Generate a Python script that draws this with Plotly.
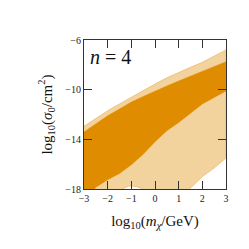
import plotly.graph_objects as go

# Band boundaries (log10 m_chi grid)
x_grid = [-3, -2.5, -2, -1.5, -1, -0.5, 0, 0.5, 1, 1.5, 2, 2.5, 3]
light_upper = [-12.95, -12.3, -11.7, -11.15, -10.6, -10.05, -9.55, -9.05, -8.6, -8.2, -7.8, -7.3, -6.8]
dark_upper = [-13.4, -12.75, -12.1, -11.55, -11.0, -10.55, -10.1, -9.7, -9.3, -8.9, -8.5, -8.1, -7.75]
dark_lower = [-19.2, -17.85, -17.25, -16.75, -16.05, -15.2, -14.2, -13.3, -12.65, -11.9, -11.15, -10.6, -10.1]

light_lower_x = [-3, -2, -1.6, -1.35, -1.1, -0.8, -0.5, 0, 1, 1.46, 2, 2.5, 3]
light_lower = [-19.0, -18.6, -18.2, -18.0, -17.75, -17.8, -18.0, -18.6, -18.6, -18.0, -17.0, -16.3, -15.5]

x_ticks = [-3, -2, -1, 0, 1, 2, 3]
y_ticks = [-18, -14, -10, -6]

DARK = "#E08C00"
LIGHT = "#F3D39D"
EDGE = "#EDB96C"
AXC = "#333333"
FONT = "Liberation Serif, serif"

fig = go.Figure()
fig.add_trace(go.Scatter(
    x=x_grid + light_lower_x[::-1],
    y=light_upper + light_lower[::-1],
    fill="toself", fillcolor=LIGHT, mode="lines",
    line=dict(color=EDGE, width=0.8), hoverinfo="skip", showlegend=False))
fig.add_trace(go.Scatter(
    x=x_grid + x_grid[::-1],
    y=dark_upper + dark_lower[::-1],
    fill="toself", fillcolor=DARK, mode="lines",
    line=dict(color=DARK, width=0.5), hoverinfo="skip", showlegend=False))

axis_common = dict(
    showgrid=False, zeroline=False, showline=True, linecolor=AXC, linewidth=1,
    mirror="ticks", ticks="inside", ticklen=8, tickwidth=1.2, tickcolor=AXC,
    tickfont=dict(family=FONT, size=10, color="#222"),
)
fig.update_xaxes(range=[-3, 3], tickvals=x_ticks, **axis_common,
                 title=dict(text="log<sub>10</sub>(<i>m</i><sub><i>χ</i></sub>/GeV)",
                            font=dict(family=FONT, size=15, color="#111"), standoff=12))
fig.update_yaxes(range=[-18, -6], tickvals=y_ticks, **axis_common,
                 title=dict(text="log<sub>10</sub>(<i>σ</i><sub>0</sub>/cm<sup>2</sup>)",
                            font=dict(family=FONT, size=15, color="#111"), standoff=9))

fig.add_annotation(x=0.03, y=0.97, xref="paper", yref="paper", xanchor="left", yanchor="top",
                   text="<i>n</i> = 4", showarrow=False,
                   font=dict(family=FONT, size=20, color="#111"))

fig.update_layout(
    width=249, height=249,
    margin=dict(l=76, r=31, t=32, b=68),
    paper_bgcolor="white", plot_bgcolor="white",
)

fig.write_html("out.html")
